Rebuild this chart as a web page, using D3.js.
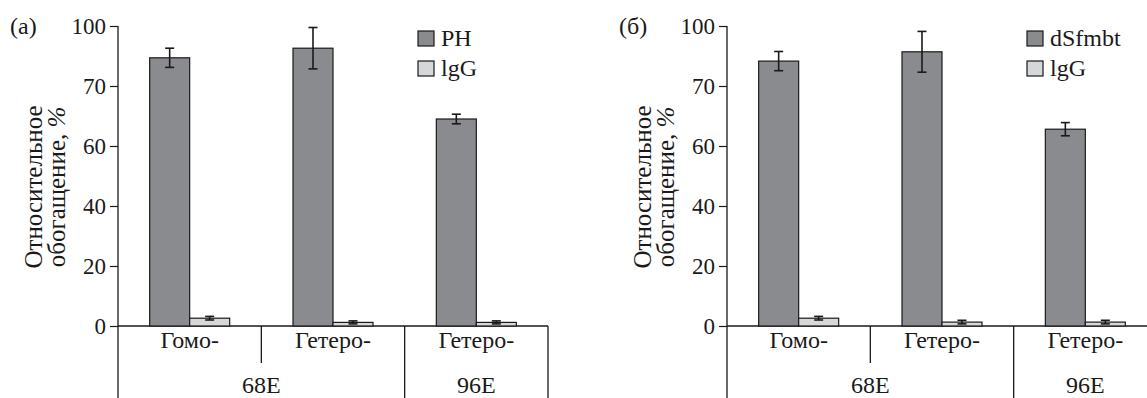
<!DOCTYPE html>
<html>
<head>
<meta charset="utf-8">
<script src="https://cdn.jsdelivr.net/npm/d3@7"></script>
<style>
  body { margin: 0; background: #fff; }
  svg text { font-family: "Liberation Serif", "Times New Roman", serif; fill: #1a1a1a; }
</style>
</head>
<body>
<div id="graph"></div>
<script>
// categories and group labels (shared by both panels)
const categories = ["Гомо-", "Гетеро-", "Гетеро-"];
const groups = [{name: "68E", from: 0, to: 1}, {name: "96E", from: 2, to: 2}];

// y ticks: positions and the labels printed on them
const yTickValues = [0, 20, 40, 60, 80, 100];
const yTickLabels = ["0", "20", "40", "60", "70", "100"];

// panel (a)
const phValues = [89.4, 92.6, 69.0];
const phErrors = [3.2, 6.9, 1.6];
const iggValuesA = [2.6, 1.2, 1.2];
const iggErrorsA = [0.6, 0.5, 0.5];

// panel (б)
const sfmbtValues = [88.3, 91.4, 65.6];
const sfmbtErrors = [3.2, 6.8, 2.2];
const iggValuesB = [2.6, 1.3, 1.3];
const iggErrorsB = [0.6, 0.6, 0.6];

const darkFill = "#8a8b8e", lightFill = "#d6d7d9", ink = "#1a1a1a";

const svg = d3.select("#graph")
  .append("svg")
    .attr("width", 1147)
    .attr("height", 398);

// inner plot size
const plotW = 430, plotTop = 26, plotBottom = 326, svgH = 398;

function drawPanel(left, letter, seriesName, values, errors, iggValues, iggErrors) {
  const g = svg.append("g").attr("transform", `translate(${left},0)`);

  const x = d3.scaleBand().domain(d3.range(categories.length)).range([0, plotW]);
  const y = d3.scaleLinear().domain([0, 100]).range([plotBottom, plotTop]);
  const barW = 40;

  // y axis
  const yAxis = g.append("g")
    .call(d3.axisLeft(y)
      .tickValues(yTickValues)
      .tickFormat((d, i) => yTickLabels[i])
      .tickSize(8)
      .tickSizeOuter(0)
      .tickPadding(4));
  yAxis.select(".domain").remove();
  yAxis.selectAll("line").attr("stroke", ink).attr("stroke-width", 1.2);
  yAxis.selectAll("text").attr("font-size", 23).attr("font-family", "Liberation Serif").attr("fill", ink);

  // left vertical line runs down through the category area
  g.append("line").attr("x1", 0).attr("x2", 0).attr("y1", plotTop).attr("y2", svgH)
    .attr("stroke", ink).attr("stroke-width", 1.3);
  // baseline
  g.append("line").attr("x1", 0).attr("x2", plotW).attr("y1", plotBottom).attr("y2", plotBottom)
    .attr("stroke", ink).attr("stroke-width", 1.3);

  // bars
  const rows = values.map((v, i) => ({i, v, e: errors[i], iv: iggValues[i], ie: iggErrors[i]}));
  const cx = i => x(i) + x.bandwidth() / 2;

  g.selectAll("rect.main").data(rows).join("rect")
    .attr("class", "main")
    .attr("x", d => cx(d.i) - barW)
    .attr("y", d => y(d.v))
    .attr("width", barW)
    .attr("height", d => plotBottom - y(d.v))
    .attr("fill", darkFill).attr("stroke", ink).attr("stroke-width", 1.2);

  g.selectAll("rect.igg").data(rows).join("rect")
    .attr("class", "igg")
    .attr("x", d => cx(d.i))
    .attr("y", d => y(d.iv))
    .attr("width", barW)
    .attr("height", d => plotBottom - y(d.iv))
    .attr("fill", lightFill).attr("stroke", ink).attr("stroke-width", 1.2);

  // error bars
  function errBars(cls, xc, val, err) {
    const eg = g.selectAll("g." + cls).data(rows).join("g").attr("class", cls);
    eg.append("line")
      .attr("x1", xc).attr("x2", xc)
      .attr("y1", d => y(val(d) + err(d))).attr("y2", d => y(val(d) - err(d)));
    eg.append("line")
      .attr("x1", d => xc(d) - 4.5).attr("x2", d => xc(d) + 4.5)
      .attr("y1", d => y(val(d) + err(d))).attr("y2", d => y(val(d) + err(d)));
    eg.append("line")
      .attr("x1", d => xc(d) - 4.5).attr("x2", d => xc(d) + 4.5)
      .attr("y1", d => y(val(d) - err(d))).attr("y2", d => y(val(d) - err(d)));
    eg.selectAll("line").attr("stroke", ink).attr("stroke-width", 1.6);
  }
  errBars("err-main", d => cx(d.i) - barW / 2, d => d.v, d => d.e);
  errBars("err-igg", d => cx(d.i) + barW / 2, d => d.iv, d => d.ie);

  // category labels
  g.selectAll("text.cat").data(categories).join("text")
    .attr("class", "cat")
    .attr("x", (d, i) => cx(i))
    .attr("y", 348)
    .attr("text-anchor", "middle")
    .attr("font-size", 24)
    .text(d => d);

  // separators between categories: short inside a group, long between groups
  for (let i = 1; i <= categories.length; i++) {
    const xs = i < categories.length ? x(i) : plotW;
    const isGroupEdge = groups.some(gr => gr.to === i - 1);
    g.append("line").attr("x1", xs).attr("x2", xs)
      .attr("y1", plotBottom).attr("y2", isGroupEdge ? svgH : 363)
      .attr("stroke", ink).attr("stroke-width", 1.3);
  }

  // group labels
  g.selectAll("text.grp").data(groups).join("text")
    .attr("class", "grp")
    .attr("x", d => (x(d.from) + x(d.to) + x.bandwidth()) / 2)
    .attr("y", 393)
    .attr("text-anchor", "middle")
    .attr("font-size", 24)
    .text(d => d.name);

  // y axis title
  const title = g.append("text")
    .attr("transform", `translate(-76,187) rotate(-90)`)
    .attr("text-anchor", "middle")
    .attr("font-size", 25);
  title.append("tspan").attr("x", 0).attr("dy", 0).text("Относительное");
  title.append("tspan").attr("x", 0).attr("dy", 23).text("обогащение, ");
  title.append("tspan").attr("font-style", "italic").text("%");

  // panel letter
  g.append("text").attr("x", -108).attr("y", 34).attr("font-size", 24).text(letter);

  // legend
  const legend = [{name: seriesName, fill: darkFill}, {name: "lgG", fill: lightFill}];
  const lg = g.selectAll("g.leg").data(legend).join("g")
    .attr("class", "leg")
    .attr("transform", (d, i) => `translate(300,${31 + i * 30})`);
  lg.append("rect").attr("width", 16).attr("height", 15)
    .attr("fill", d => d.fill).attr("stroke", ink).attr("stroke-width", 1.2);
  lg.append("text").attr("x", 23).attr("y", 15).attr("font-size", 24).text(d => d.name);
}

drawPanel(118, "(a)", "PH", phValues, phErrors, iggValuesA, iggErrorsA);
drawPanel(727, "(б)", "dSfmbt", sfmbtValues, sfmbtErrors, iggValuesB, iggErrorsB);
</script>
</body>
</html>
